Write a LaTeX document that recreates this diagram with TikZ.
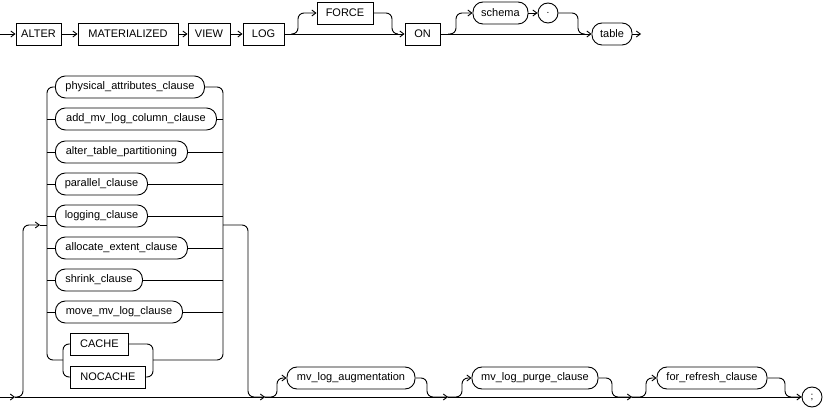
\documentclass[tikz,border=0pt]{standalone}
\usepackage{fontspec}
\setmainfont{Liberation Sans}
\usetikzlibrary{arrows.meta}
\begin{document}
\begin{tikzpicture}[x=1pt,y=-1pt,
  line width=0.9pt,
  kw/.style={draw,rectangle,minimum height=22,inner sep=2pt,font=\fontsize{11}{12}\selectfont},
  nt/.style={draw,rectangle,rounded corners=10,minimum height=22,inner sep=2pt,font=\fontsize{11}{12}\selectfont},
  arr/.style={-{Straight Barb[length=4pt,width=6pt]}},
  rc/.style={rounded corners=6}]
\useasboundingbox (0,0) rectangle (824,411);
% top row
\coordinate (s0) at (0,34);
\node[kw,minimum width=45] (alter) at (38.5,34) {ALTER};
\node[kw,minimum width=100] (mat) at (128,34) {MATERIALIZED};
\node[kw,minimum width=42] (view) at (209,34) {VIEW};
\node[kw,minimum width=41] (log) at (263.5,34) {LOG};
\node[kw,minimum width=56] (force) at (345,13) {FORCE};
\node[kw,minimum width=35] (on) at (422.5,34) {ON};
\node[nt,minimum width=55] (schema) at (500.5,13) {schema};
\node[draw,circle,minimum size=20,inner sep=0pt] (dot) at (548,13) {.};
\node[nt,minimum width=40] (table) at (612,34) {table};
\coordinate (e0) at (641,34);
\coordinate (f1) at (291,34);
\coordinate (f2) at (398,34);
\coordinate (g1) at (448,34);
\coordinate (g2) at (585,34);
\draw[arr] (s0) -- (alter);
\draw[arr] (alter) -- (mat);
\draw[arr] (mat) -- (view);
\draw[arr] (view) -- (log);
\draw[arr] (log) -- (on);
\draw[arr,rc] (f1) -| (298,13) -- (force);
\draw[rc] (force) -| (392,34) -- (f2);
\draw[arr] (on) -- (table);
\draw[arr,rc] (g1) -| (456,13) -- (schema);
\draw[arr] (schema) -- (dot);
\draw[rc] (dot) -| (578,34) -- (g2);
\draw[arr] (table) -- (e0);
% stack
\node[nt,anchor=west,minimum width=149] (pa) at (55,87) {physical\_attributes\_clause};
\node[nt,anchor=west,minimum width=161] (amv) at (55,119) {add\_mv\_log\_column\_clause};
\node[nt,anchor=west,minimum width=132] (atp) at (55,152) {alter\_table\_partitioning};
\node[nt,anchor=west,minimum width=92] (par) at (55,184) {parallel\_clause};
\node[nt,anchor=west,minimum width=92] (lg) at (55,216) {logging\_clause};
\node[nt,anchor=west,minimum width=132] (al) at (55,248) {allocate\_extent\_clause};
\node[nt,anchor=west,minimum width=87] (sh) at (55,280) {shrink\_clause};
\node[nt,anchor=west,minimum width=127] (mv) at (55,312) {move\_mv\_log\_clause};
\node[kw,anchor=west,minimum width=58] (cache) at (70,344) {CACHE};
\node[kw,anchor=west,minimum width=75] (nocache) at (70,377) {NOCACHE};
\draw[rc] (pa.west) -| (47,360) -- (63,360);
\draw[rc] (pa.east) -| (223,360) -- (153,360);
\foreach \n in {amv,atp,par,lg,al,sh,mv} {
  \draw (\n.west) -- (\n.west -| 47,0);
  \draw (\n.east) -- (\n.east -| 223,0);
}
\draw[rc] (cache.west) -| (63,377) -- (nocache.west);
\draw[rc] (cache.east) -| (153,377) -- (nocache.east);
% bottom row
\coordinate (b0) at (0,397);
\coordinate (b1) at (15,397);
\coordinate (b2) at (265,397);
\coordinate (b3) at (448,397);
\coordinate (b4) at (632,397);
\coordinate (ent) at (40,225);
\coordinate (ext) at (223,225);
\node[nt,minimum width=128] (aug) at (351,378) {mv\_log\_augmentation};
\node[nt,minimum width=126] (purge) at (535,378) {mv\_log\_purge\_clause};
\node[nt,minimum width=110] (fr) at (712,378) {for\_refresh\_clause};
\node[draw,circle,minimum size=20,inner sep=0pt] (semi) at (812,397) {;};
\draw[arr] (b0) -- (b1);
\draw[arr] (b1) -- (b2);
\draw[arr] (b2) -- (b3);
\draw[arr] (b3) -- (b4);
\draw[arr] (b4) -- (semi);
\draw[arr,rc] (b1) -| (23,225) -- (ent);
\draw (ent) -- (47,225);
\draw[rc] (ext) -| (248,397) -- (b2);
\draw[arr,rc] (b2) -| (277,378) -- (aug);
\draw[rc] (aug) -| (427,397) -- (b3);
\draw[arr,rc] (b3) -| (462,378) -- (purge);
\draw[rc] (purge) -| (612,397) -- (b4);
\draw[arr,rc] (b4) -| (646,378) -- (fr);
\draw[rc] (fr) -| (785,397) -- (semi);
\end{tikzpicture}
\end{document}
